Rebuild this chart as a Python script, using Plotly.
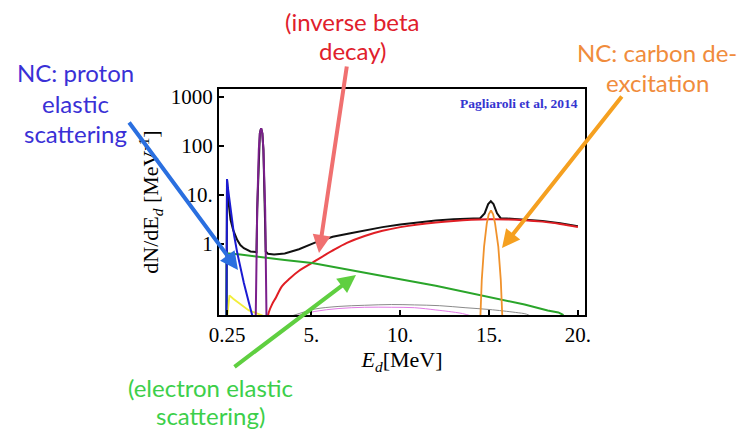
import plotly.graph_objects as go

# ---- data ----
tot_x = [0.22, 0.25, 0.30, 0.37, 0.45, 0.60, 0.83, 1.0, 1.2, 1.57, 1.81, 1.91, 1.95, 2.04, 2.10, 2.17,
         2.24, 2.30, 2.40, 2.43, 2.55, 2.9, 3.5, 4.3, 5.2, 6.2, 7.2, 8.0, 9.0, 10.0, 11.0, 12.0, 13.0,
         14.0, 14.5, 14.75, 14.95, 15.1, 15.25, 15.45, 15.65, 16.0, 17.0, 18.0, 19.0, 20.0]
tot_y = [0.02, 21, 9.3, 4.9, 3.1, 1.9, 1.2, 0.95, 0.82, 0.70, 0.67, 0.68, 4.9, 83, 180, 229,
         180, 83, 4.9, 0.70, 0.63, 0.61, 0.64, 0.78, 1.06, 1.4, 1.65, 1.9, 2.2, 2.5, 2.75, 3.0, 3.18,
         3.3, 3.35, 4.2, 6.5, 7.4, 6.5, 4.2, 3.35, 3.3, 3.15, 2.95, 2.65, 2.3]

ibd_x = [2.45, 2.6, 2.8, 3.0, 3.35, 3.8, 4.29, 5.04, 5.5, 6.16, 7.0, 8.0, 9.0, 10.0, 11.0, 12.0,
         13.0, 14.0, 15.0, 16.0, 17.0, 18.0, 19.0, 20.0]
ibd_y = [0.02, 0.04, 0.06, 0.08, 0.138, 0.2, 0.28, 0.41, 0.52, 0.72, 1.05, 1.45, 1.85, 2.2, 2.5, 2.75,
         2.95, 3.1, 3.17, 3.15, 3.05, 2.85, 2.55, 2.22]

es_x = [0.22, 0.23, 1.0, 2.4, 3.5, 5.04, 6.5, 8.0, 10.0, 12.0, 15.0, 17.0, 18.3, 18.9, 19.15, 19.3]
es_y = [0.02, 0.645, 0.61, 0.52, 0.47, 0.41, 0.33, 0.26, 0.19, 0.14, 0.081, 0.058, 0.044, 0.040, 0.036, 0.02]

pes_x = [0.22, 0.25, 0.30, 0.45, 0.65, 0.83, 1.0, 1.2, 1.45, 1.67, 1.72]
pes_y = [0.02, 21, 14, 4.9, 1.5, 0.65, 0.33, 0.16, 0.07, 0.035, 0.02]

c12_x = [1.86, 1.95, 2.04, 2.10, 2.17, 2.24, 2.30, 2.40, 2.48]
c12_y = [0.02, 4.9, 83, 180, 229, 180, 83, 4.9, 0.02]

yel_x = [0.20, 0.39, 0.60, 0.92, 1.2, 1.48, 2.04, 2.3, 2.45]
yel_y = [0.02, 0.089, 0.076, 0.063, 0.052, 0.044, 0.037, 0.034, 0.02]

exc_x = [14.49, 14.59, 14.72, 14.87, 14.98, 15.11, 15.23, 15.34, 15.52, 15.66, 15.77]
exc_y = [0.02, 0.185, 0.88, 2.6, 4.0, 4.8, 4.0, 2.6, 0.88, 0.185, 0.02]

gry_x = [3.9, 4.6, 5.2, 6.5, 8.0, 9.5, 10.8, 12.2, 13.65, 15.0, 16.5, 17.1, 17.4]
gry_y = [0.034, 0.041, 0.047, 0.053, 0.056, 0.058, 0.057, 0.055, 0.050, 0.046, 0.040, 0.037, 0.033]

pnk_x = [4.1, 5.2, 6.5, 8.0, 9.5, 10.8, 12.0, 12.7, 13.5, 14.0]
pnk_y = [0.034, 0.042, 0.048, 0.051, 0.051, 0.050, 0.045, 0.042, 0.038, 0.034]

x_ticks = [0.25, 5, 10, 15, 20]
x_ticktext = ["0.25", "5.", "10.", "15.", "20."]
y_ticks = [1, 10, 100, 1000]
y_ticktext = ["1", "10.", "100", "1000"]

# ---- figure ----
W, H = 742, 432
L, R, T, B = 219, 585, 89, 315

fig = go.Figure()
series = [
    (gry_x, gry_y, "#8a8a8a", 1.0, "spline"),
    (pnk_x, pnk_y, "#e27ae6", 1.0, "spline"),
    (tot_x, tot_y, "#111111", 2.0, "linear"),
    (ibd_x, ibd_y, "#e01e24", 2.0, "spline"),
    (es_x, es_y, "#2aa52a", 2.0, "linear"),
    (yel_x, yel_y, "#f2ee3a", 1.8, "linear"),
    (pes_x, pes_y, "#1b1bd2", 2.0, "linear"),
    (c12_x, c12_y, "#7b1f8c", 2.0, "linear"),
    (exc_x, exc_y, "#f0922c", 1.8, "linear"),
]
for xs, ys, col, w, shp in series:
    fig.add_trace(go.Scatter(x=xs, y=ys, mode="lines", line=dict(color=col, width=w, shape=shp),
                             showlegend=False, hoverinfo="skip"))

serif = "Liberation Serif"
sans = "Lato"

fig.update_xaxes(range=[-0.2, 20.4], tickvals=x_ticks, ticktext=x_ticktext,
                 ticks="inside", ticklen=5, tickwidth=1.5, tickcolor="black",
                 showline=True, linecolor="black", linewidth=2, mirror=True,
                 showgrid=False, zeroline=False,
                 tickfont=dict(family=serif, size=21, color="black"),
                 title=dict(text="<i>E</i><sub><i>d</i></sub>[MeV]",
                            font=dict(family=serif, size=22, color="black"), standoff=2))
fig.update_yaxes(type="log", range=[-1.45, 3.16], tickvals=y_ticks, ticktext=y_ticktext,
                 ticks="inside", ticklen=5, tickwidth=1.5, tickcolor="black",
                 showline=True, linecolor="black", linewidth=2, mirror=True,
                 showgrid=False, zeroline=False,
                 tickfont=dict(family=serif, size=21, color="black"),
                 title=dict(text="dN/dE<sub><i>d</i></sub> [MeV<sup>-1</sup>]",
                            font=dict(family=serif, size=22, color="black"), standoff=6))

def px2paper(px, py):
    return (px - L) / (R - L), (B - py) / (B - T)

annots = []
# label lines: text, center x, center y (pixels), colour
labels = [
    ("NC: proton", 75, 72, "#3a30d6"),
    ("elastic", 75, 103, "#3a30d6"),
    ("scattering", 75, 133, "#3a30d6"),
    ("(inverse beta", 352, 21, "#e0202c"),
    ("decay)", 352, 51, "#e0202c"),
    ("NC: carbon de-", 657, 53, "#f08c3c"),
    ("excitation", 657, 83, "#f08c3c"),
    ("(electron elastic", 210, 387, "#3ccf4a"),
    ("scattering)", 210, 415, "#3ccf4a"),
]
for txt, cx, cy, col in labels:
    x, y = px2paper(cx, cy)
    annots.append(dict(text=txt, x=x, y=y, xref="paper", yref="paper", showarrow=False,
                       xanchor="center", yanchor="middle", align="center",
                       font=dict(family=sans, size=24, color=col)))

# arrows (head pixel, tail pixel)
arrows = [
    ((238, 270), (128, 121), "#2a6fe0"),
    ((319, 253), (347, 65), "#f07070"),
    ((502, 248), (623, 95), "#f5a020"),
    ((356, 275), (233, 368), "#5fcf40"),
]
for (hx, hy), (tx, ty), col in arrows:
    x, y = px2paper(hx, hy)
    annots.append(dict(text="", x=x, y=y, xref="paper", yref="paper", showarrow=True,
                       ax=tx - hx, ay=ty - hy, axref="pixel", ayref="pixel",
                       arrowhead=2, arrowsize=0.9, arrowwidth=4, arrowcolor=col, standoff=0))

x, y = px2paper(580, 103)
annots.append(dict(text="<b>Pagliaroli et al, 2014</b>", x=x, y=y, xref="paper", yref="paper",
                   showarrow=False, xanchor="right", yanchor="middle",
                   font=dict(family=serif, size=13.5, color="#3535d0")))

fig.update_layout(width=W, height=H,
                  margin=dict(l=L, r=W - R, t=T, b=H - B, autoexpand=False),
                  paper_bgcolor="white", plot_bgcolor="white", annotations=annots)

fig.write_html("out.html", config={"displayModeBar": False},
               post_script="document.body.style.margin='0px';document.body.style.padding='0px';")
